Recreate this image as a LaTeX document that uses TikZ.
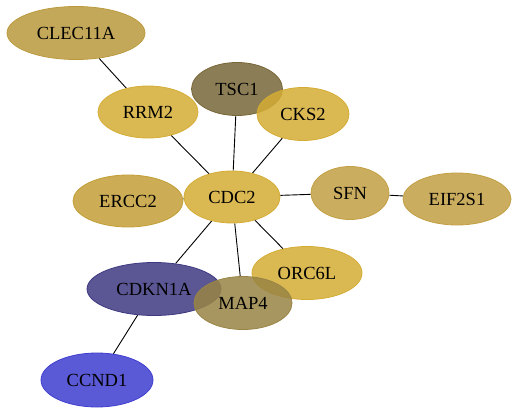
\documentclass[tikz,border=0pt]{standalone}
\usepackage{fontspec}
\setmainfont{Liberation Serif}
\usetikzlibrary{shapes.geometric}
\pgfdeclarelayer{bg}
\pgfsetlayers{bg,main}
\definecolor{cgold}{RGB}{212,172,52}
\definecolor{cclec}{RGB}{186,153,61}
\definecolor{cercc}{RGB}{195,158,55}
\definecolor{csfn}{RGB}{194,159,67}
\definecolor{ctsc}{RGB}{119,102,55}
\definecolor{cmap}{RGB}{153,132,68}
\definecolor{ccdk}{RGB}{62,57,129}
\definecolor{cccn}{RGB}{62,61,207}
\tikzset{
  gene/.style={ellipse, inner sep=0pt, fill opacity=0.85, text opacity=1, line width=0.8pt, font=\fontsize{18.5}{18.5}\selectfont},
  link/.style={draw=black, line width=0.9pt},
}
\begin{document}
\begin{tikzpicture}[x=1pt,y=-1pt]
\useasboundingbox (0,0) rectangle (517,413);
\node[gene, draw=cclec, fill=cclec, minimum width=138pt, minimum height=53pt] (clec) at (76,33) {CLEC11A};
\node[gene, draw=cgold, fill=cgold, minimum width=100pt, minimum height=52pt] (rrm) at (148,112) {RRM2};
\node[gene, draw=ctsc, fill=ctsc, minimum width=91pt, minimum height=53pt] (tsc) at (237,89) {TSC1};
\node[gene, draw=cgold, fill=cgold, minimum width=92pt, minimum height=53pt] (cks) at (303,114) {CKS2};
\node[gene, draw=cercc, fill=cercc, minimum width=110pt, minimum height=52pt] (ercc) at (128,201) {ERCC2};
\node[gene, draw=cgold, fill=cgold, minimum width=96pt, minimum height=52pt] (cdc) at (232,197) {CDC2};
\node[gene, draw=csfn, fill=csfn, minimum width=78pt, minimum height=53pt] (sfn) at (350,193) {SFN};
\node[gene, draw=csfn, fill=csfn, minimum width=108pt, minimum height=52pt] (eif) at (457,199) {EIF2S1};
\node[gene, draw=cgold, fill=cgold, minimum width=110pt, minimum height=53pt] (orc) at (307,273) {ORC6L};
\node[gene, draw=ccdk, fill=ccdk, minimum width=134pt, minimum height=53pt] (cdk) at (154,289) {CDKN1A};
\node[gene, draw=cmap, fill=cmap, minimum width=98pt, minimum height=53pt] (map) at (243,303) {MAP4};
\node[gene, draw=cccn, fill=cccn, minimum width=112pt, minimum height=54pt] (ccn) at (97,380) {CCND1};
\begin{pgfonlayer}{bg}
\draw[link] (clec) -- (rrm);
\draw[link] (rrm) -- (cdc);
\draw[link] (tsc) -- (cdc);
\draw[link] (cks) -- (cdc);
\draw[link] (ercc) -- (cdc);
\draw[link] (cdc) -- (sfn);
\draw[link] (sfn) -- (eif);
\draw[link] (cdc) -- (orc);
\draw[link] (cdc) -- (map);
\draw[link] (cdc) -- (cdk);
\draw[link] (cdk) -- (ccn);
\end{pgfonlayer}
\end{tikzpicture}
\end{document}
